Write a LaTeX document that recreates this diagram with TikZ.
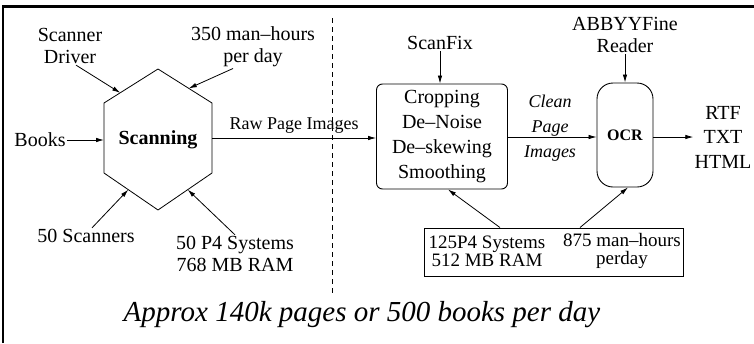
\documentclass[tikz,border=0pt]{standalone}
\usepackage{fontspec}
\setmainfont{Liberation Serif}
\usetikzlibrary{arrows.meta,calc}

\tikzset{
  lbl/.style={inner sep=1pt, align=center, font=\fontsize{20}{22}\selectfont},
  arr/.style={-{Latex[length=8pt,width=4.5pt]}, line width=0.8pt},
  procbox/.style={draw, line width=0.9pt, rounded corners=6pt, align=center,
    minimum width=131pt, minimum height=105pt, font=\fontsize{20}{25}\selectfont},
  ocrbox/.style={draw, line width=0.9pt, rounded corners=16pt,
    minimum width=56pt, minimum height=104pt, font=\fontsize{16}{18}\bfseries},
}

\begin{document}
\begin{tikzpicture}[x=1pt, y=-1pt, line width=0.8pt]
    \useasboundingbox (0,0) rectangle (754,343);

    % frame and split line
    \draw[line width=2.5pt] (3,343) -- (3,6.5) -- (754,6.5);
    \draw[dashed, dash pattern=on 5pt off 4pt] (332,18) -- (332,295);

    % scanning stage
    \coordinate (ht) at (158,69);
    \coordinate (hur) at (212,103);
    \coordinate (hlr) at (212,173);
    \coordinate (hb) at (158,210);
    \coordinate (hll) at (104,173);
    \coordinate (hul) at (104,103);
    \draw (ht) -- (hur) -- (hlr) -- (hb) -- (hll) -- (hul) -- cycle;
    \node[lbl, font=\fontsize{20}{22}\bfseries] (scan) at (158,140) {Scanning};

    \node[lbl] (books) at (40,140) {Books};
    \node[lbl] (drv) at (70,46) {Scanner\\Driver};
    \node[lbl] (man) at (253,47) {350 man--hours\\per day};
    \node[lbl] (scn) at (86,236) {50 Scanners};
    \node[lbl] (sys) at (235,254) {50 P4 Systems\\768 MB RAM};

    \draw[arr] (books.east) -- (books.east -| hul);
    \draw[arr] ([xshift=6pt]drv.south) -- ($(hul)!0.3!(ht)$);
    \draw[arr] ([xshift=-20pt]man.south) -- ($(ht)!0.57!(hur)$);
    \draw[arr] ([xshift=6pt]scn.north) -- ($(hll)!0.45!(hb)$);
    \draw[arr] (sys.north) -- ($(hlr)!0.45!(hb)$);

    % cleaning stage
    \node[procbox] (clean) at (442,136.5) {Cropping\\De--Noise\\De--skewing\\Smoothing};
    \node[lbl] (fix) at (440,43) {ScanFix};
    \draw[arr] (fix.south) -- (fix.south |- clean.north);

    \coordinate (rawst) at ($(hur)!0.5!(hlr)$);
    \draw[arr] (rawst) -- (rawst -| clean.west)
      node[lbl, midway, above=3pt, font=\fontsize{18}{20}\selectfont] (raw) {Raw Page Images};

    % ocr stage
    \node[ocrbox] (ocr) at (625,135) {OCR};
    \node[lbl, font=\fontsize{18}{25}\itshape] (img) at (550,128) {Clean\\Page\\Images};
    \node[lbl] (abbyy) at (625,35) {ABBYYFine\\Reader};
    \node[lbl, font=\fontsize{20}{24.5}\selectfont] (fmt) at (723,137) {RTF\\TXT\\HTML};

    \draw[arr] (clean.east |- 0,137) -- (ocr.west |- 0,137);
    \draw[arr] (abbyy.south) -- (ocr.north);
    \draw[arr] (ocr.east |- 0,137) -- (fmt.west |- 0,137);

    % resources
    \node[draw, line width=0.9pt, minimum width=259pt, minimum height=48pt] (res) at (553.5,252) {};
    \node[lbl, font=\fontsize{19}{18}\selectfont] (sysb) at (487,251) {125P4 Systems\\512 MB RAM};
    \node[lbl, font=\fontsize{19}{18}\selectfont] (manb) at (622,251) {875 man--hours\\perday};
    \draw[arr] ([xshift=-53.5pt]res.north) -- ([xshift=6pt]clean.south);
    \draw[arr] ([xshift=26.5pt]res.north) -- ([xshift=3pt]ocr.south);

    \node[lbl, font=\fontsize{29}{32}\itshape] (note) at (362,315) {Approx 140k pages or 500 books per day};
\end{tikzpicture}
\end{document}
